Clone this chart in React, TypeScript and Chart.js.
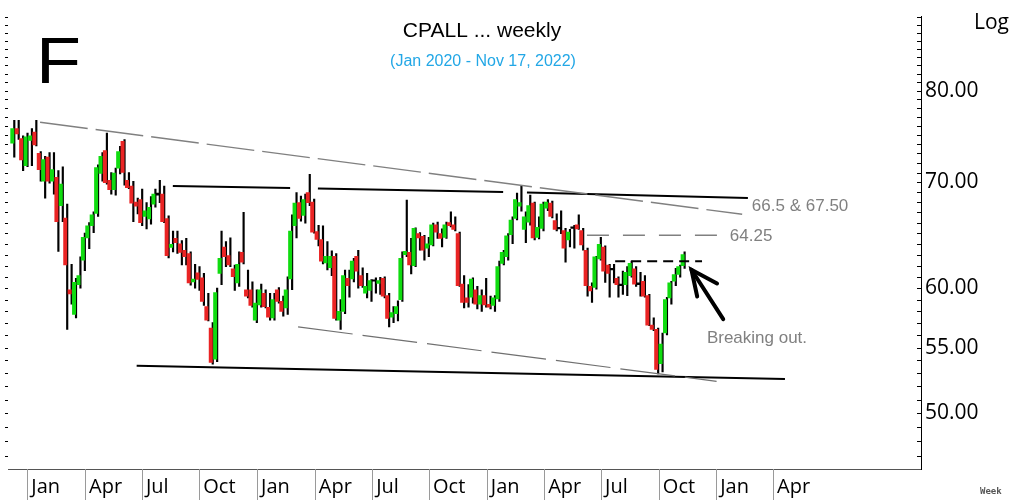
import React, { useEffect, useRef } from 'react';
import { Chart, registerables } from 'chart.js';

Chart.register(...registerables);

// Weekly OHLC (index 0 = mid-Dec 2019, last = Nov 17, 2022)
const opens = [74.1, 75.7, 74.6, 71.7, 74.4, 75.3, 73.0, 70.1, 72.6, 70.1, 70.5, 67.65, 66.45, 59.85, 57.75, 60.3, 62.5, 64.55, 65.7, 66.9, 70.9, 73.3, 70.2, 69.25, 71.45, 74.3, 70.2, 69.6, 68.0, 68.25, 66.6, 66.35, 67.8, 68.9, 68.8, 66.4, 63.65, 64.5, 64.0, 63.4, 63.1, 60.55, 61.35, 60.9, 58.4, 56.6, 54.1, 61.3, 63.7, 62.9, 61.7, 60.45, 63.2, 59.85, 59.85, 57.25, 58.55, 59.55, 58.35, 57.45, 59.85, 58.85, 58.3, 60.8, 65.7, 67.95, 66.7, 68.95, 68.0, 65.15, 64.4, 62.25, 61.8, 62.85, 57.25, 58.0, 60.85, 60.8, 62.85, 61.1, 59.55, 59.8, 60.6, 60.4, 60.85, 59.35, 57.5, 57.8, 59.0, 63.0, 63.2, 62.0, 64.95, 64.7, 63.6, 63.9, 65.8, 64.95, 64.6, 66.0, 65.8, 64.95, 60.35, 59.15, 59.2, 59.85, 58.6, 59.35, 58.6, 58.5, 59.05, 62.2, 62.8, 64.85, 66.4, 67.6, 65.35, 66.05, 67.9, 64.6, 65.45, 67.4, 67.9, 66.2, 65.4, 65.25, 64.35, 65.5, 65.8, 65.25, 63.4, 60.15, 60.05, 62.6, 63.7, 62.05, 61.75, 60.85, 60.35, 60.3, 61.1, 61.7, 60.45, 60.6, 59.35, 56.85, 56.5, 53.75, 56.2, 59.15, 60.6, 61.2, 62.0];
const highs = [76.6, 76.6, 74.9, 75.2, 75.7, 76.6, 73.2, 72.7, 73.1, 73.1, 71.2, 71.6, 67.8, 62.1, 60.85, 62.8, 65.0, 66.0, 67.05, 71.8, 73.1, 75.2, 71.0, 71.45, 73.75, 74.5, 71.0, 70.1, 68.4, 69.3, 67.95, 68.55, 69.3, 70.2, 69.6, 66.65, 65.2, 65.2, 64.3, 64.5, 63.25, 62.1, 61.9, 61.3, 59.55, 57.05, 60.0, 65.2, 64.2, 64.55, 62.05, 63.25, 67.0, 61.6, 60.55, 59.85, 60.35, 59.85, 59.55, 59.55, 60.05, 59.3, 61.0, 66.75, 68.95, 68.6, 68.8, 70.8, 68.3, 65.75, 65.7, 64.2, 63.35, 63.1, 59.0, 61.6, 61.6, 62.65, 63.4, 61.8, 61.3, 60.75, 60.9, 60.95, 61.0, 59.55, 58.4, 58.9, 63.25, 68.2, 64.5, 65.5, 65.05, 64.8, 64.6, 65.95, 66.05, 65.4, 66.05, 67.05, 66.55, 65.1, 61.1, 60.3, 60.9, 60.15, 59.85, 60.85, 59.3, 59.35, 62.4, 63.4, 64.95, 66.55, 68.9, 69.6, 67.05, 68.7, 68.0, 66.55, 68.0, 68.25, 68.1, 66.85, 67.15, 65.45, 65.35, 65.75, 66.75, 65.45, 63.6, 60.45, 62.85, 64.6, 63.8, 62.1, 62.1, 61.0, 61.5, 61.9, 62.4, 61.9, 61.4, 61.1, 59.45, 57.45, 56.6, 56.2, 59.2, 60.6, 61.75, 62.05, 63.25];
const lows = [72.6, 74.5, 71.2, 71.6, 71.7, 73.8, 70.1, 68.4, 69.9, 68.8, 63.3, 66.1, 56.5, 58.6, 57.45, 60.0, 61.55, 63.55, 65.05, 66.6, 70.1, 69.8, 68.8, 68.7, 70.85, 69.7, 69.35, 66.1, 66.85, 65.7, 65.4, 65.85, 67.5, 67.95, 66.0, 62.7, 63.25, 63.1, 62.05, 62.05, 60.25, 60.0, 59.8, 58.5, 57.2, 53.7, 53.9, 60.3, 61.9, 61.9, 59.8, 60.15, 62.15, 59.15, 58.35, 57.05, 58.35, 58.3, 57.25, 57.25, 58.7, 57.6, 57.75, 59.85, 64.55, 66.15, 65.95, 67.65, 65.0, 63.8, 62.15, 61.6, 61.1, 57.25, 56.5, 57.8, 59.2, 60.55, 60.0, 60.05, 59.15, 58.85, 59.55, 59.45, 59.15, 56.7, 57.05, 57.2, 58.85, 62.8, 61.25, 61.9, 63.4, 62.5, 62.8, 63.8, 64.5, 63.7, 64.5, 65.6, 65.2, 60.15, 58.3, 58.35, 58.7, 58.2, 58.0, 58.35, 58.2, 58.0, 58.85, 62.05, 62.5, 64.0, 66.25, 67.1, 64.1, 65.75, 64.35, 64.45, 65.2, 67.15, 66.45, 65.2, 64.95, 62.3, 63.7, 63.6, 65.35, 63.4, 59.3, 58.75, 59.9, 62.5, 60.5, 59.2, 60.45, 59.2, 59.45, 59.35, 60.95, 60.15, 59.3, 59.2, 56.8, 56.4, 52.95, 53.1, 56.05, 58.6, 60.2, 60.95, 61.75];
const closes = [75.7, 75.1, 72.3, 74.8, 74.9, 73.9, 71.3, 72.35, 70.1, 71.3, 66.1, 69.8, 62.05, 59.5, 60.5, 61.1, 64.6, 65.7, 66.75, 71.5, 72.7, 69.95, 69.25, 70.95, 73.2, 71.0, 69.45, 67.9, 67.6, 66.0, 67.15, 67.5, 68.8, 68.7, 66.1, 62.9, 63.95, 64.1, 63.2, 62.8, 60.45, 60.8, 60.75, 58.85, 57.25, 53.85, 59.6, 62.65, 62.8, 62.05, 61.0, 62.1, 62.3, 59.3, 58.5, 58.7, 59.85, 58.4, 57.5, 59.0, 58.85, 58.0, 59.85, 65.2, 67.9, 66.4, 68.25, 67.95, 65.1, 64.4, 62.4, 62.85, 62.85, 57.4, 58.0, 61.1, 60.2, 62.4, 61.5, 60.2, 60.15, 60.65, 60.65, 60.65, 59.3, 57.4, 57.9, 58.4, 62.65, 63.3, 62.05, 65.45, 64.55, 63.4, 64.0, 65.8, 65.1, 64.5, 65.8, 65.7, 65.35, 60.2, 58.75, 58.75, 60.8, 58.6, 59.35, 58.55, 58.35, 59.15, 61.9, 63.2, 64.75, 66.25, 68.25, 67.95, 66.55, 67.65, 64.55, 65.55, 67.8, 68.0, 66.6, 65.35, 65.45, 63.6, 65.1, 65.45, 65.4, 63.9, 60.2, 59.75, 62.8, 63.95, 61.5, 61.3, 61.6, 60.3, 60.2, 61.4, 62.2, 60.35, 60.3, 59.3, 56.85, 56.5, 53.3, 55.3, 59.0, 60.45, 61.2, 61.9, 63.0];

// x-axis quarter ticks (in week positions) and their labels
const quarterTicks = [3.4, 16.5, 29.4, 42.4, 55.5, 68.6, 81.6, 94.5, 107.6, 120.6, 133.5, 146.6, 159.6, 172.5];
const quarterLabels = ['Jan', 'Apr', 'Jul', 'Oct', 'Jan', 'Apr', 'Jul', 'Oct', 'Jan', 'Apr', 'Jul', 'Oct', 'Jan', 'Apr'];

// right log axis labels
const yTickValues = [50, 55, 60, 70, 80];

// trend lines: [week, price] endpoints
const upperChannel = [[6.3, 76.39], [165.5, 66.81]];
const lowerChannel = [[64.8, 56.7], [159.7, 52.38]];
const topLineA = [[36.4, 69.61], [63.0, 69.41]];
const topLineB = [[69.3, 69.36], [111.3, 69.01]];
const topLineC = [[116.7, 68.96], [166.8, 68.42]];
const bottomLine = [[28.2, 53.58], [175.2, 52.56]];
const level6425 = [[130.3, 64.79], [160.5, 64.79]];
const breakoutLevel = [[136.7, 62.4], [156.4, 62.4]];
const arrowShaft = [[161.2, 57.34], [154.0, 61.62]];
const arrowHead = [[159.8, 60.4], [154.0, 61.62], [155.3, 59.27]];

const annotations = [
  { text: '66.5 & 67.50', x: 167.7, y: 67.58 },
  { text: '64.25', x: 162.7, y: 64.72 },
  { text: 'Breaking out.', x: 157.5, y: 55.79 },
];

const GREEN = '#10dc10';
const RED = '#ea2424';

const toPts = (arr: number[][]) => arr.map(([x, y]) => ({ x, y }));

const lineDs = (pts: number[][], color: string, width: number, dash: number[] = []) => ({
  type: 'line' as const,
  data: toPts(pts),
  borderColor: color,
  borderWidth: width,
  borderDash: dash,
  pointRadius: 0,
  fill: false,
  tension: 0,
  order: 0,
  borderCapStyle: 'butt' as const,
});

const decorPlugin = {
  id: 'decor',
  afterDraw(chart: any) {
    const { ctx, chartArea: a, scales } = chart;
    const xs = scales.x;
    const ys = scales.y;
    ctx.save();
    // minor ticks on both sides
    ctx.strokeStyle = '#000';
    ctx.lineWidth = 1;
    ctx.beginPath();
    for (let v = 47; v <= 89; v++) {
      const py = Math.round(ys.getPixelForValue(v)) + 0.5;
      ctx.moveTo(a.right - 4, py);
      ctx.lineTo(a.right, py);
      ctx.moveTo(a.left - 3, py);
      ctx.lineTo(a.left, py);
    }
    ctx.stroke();
    // quarter separators below the axis
    ctx.strokeStyle = '#9a9a9a';
    ctx.beginPath();
    for (const t of quarterTicks) {
      const px = Math.round(xs.getPixelForValue(t)) + 0.5;
      ctx.moveTo(px, a.bottom);
      ctx.lineTo(px, chart.height);
    }
    ctx.stroke();

    // annotations
    ctx.fillStyle = '#808080';
    ctx.font = '17px "Liberation Sans", Arial, sans-serif';
    ctx.textAlign = 'left';
    ctx.textBaseline = 'middle';
    for (const an of annotations) {
      ctx.fillText(an.text, xs.getPixelForValue(an.x), ys.getPixelForValue(an.y));
    }

    // titles
    ctx.fillStyle = '#000';
    ctx.textAlign = 'center';
    ctx.font = '21px "Liberation Sans", Arial, sans-serif';
    ctx.fillText('CPALL ... weekly', 482, 31);
    ctx.fillStyle = '#22a7e6';
    ctx.font = '16px "Liberation Sans", Arial, sans-serif';
    ctx.fillText('(Jan 2020 - Nov 17, 2022)', 483, 62);

    ctx.fillStyle = '#000';
    ctx.textAlign = 'left';
    ctx.textBaseline = 'alphabetic';
    ctx.save();
    ctx.translate(36, 83);
    ctx.scale(1.15, 1);
    ctx.font = '64px "Liberation Sans", Arial, sans-serif';
    ctx.fillText('F', 0, 0);
    ctx.restore();
    ctx.font = '21px "Open Sans", sans-serif';
    ctx.fillText('Log', 974, 29);
    ctx.fillStyle = '#555';
    ctx.font = 'bold 9px "DejaVu Sans Mono", monospace';
    ctx.fillText('Week', 980, 494);
    ctx.restore();
  },
};

export default function App() {
  const canvasRef = useRef<HTMLCanvasElement | null>(null);

  useEffect(() => {
    document.body.style.margin = '0';
    const canvas = canvasRef.current;
    if (!canvas) return;
    const idx = opens.map((_, i) => i);
    const bodyColors = idx.map((i) => {
      const d = Math.abs(closes[i] - opens[i]) / opens[i];
      if (d < 0.0032) return '#000';
      return closes[i] >= opens[i] ? GREEN : RED;
    });

    const chart = new Chart(canvas, {
      type: 'bar',
      data: {
        datasets: [
          lineDs(upperChannel, '#808080', 1.4, [48, 8]) as any,
          lineDs(lowerChannel, '#707070', 1.2, [55, 10]) as any,
          lineDs(topLineA, '#000', 2) as any,
          lineDs(topLineB, '#000', 2) as any,
          lineDs(topLineC, '#000', 2) as any,
          lineDs(bottomLine, '#000', 2) as any,
          lineDs(level6425, '#808080', 1.5, [22, 14]) as any,
          lineDs(breakoutLevel, '#000', 2, [10, 6]) as any,
          { ...lineDs(arrowShaft, '#000', 4), borderCapStyle: 'round' } as any,
          { ...lineDs(arrowHead, '#000', 4), borderCapStyle: 'round', borderJoinStyle: 'miter' } as any,
          {
            type: 'bar',
            data: idx.map((i) => ({ x: i, y: [opens[i], closes[i]] })),
            backgroundColor: bodyColors,
            barThickness: 3.3,
            minBarLength: 1.5,
            grouped: false,
            order: 1,
          } as any,
          {
            type: 'bar',
            data: idx.map((i) => ({ x: i + 0.45, y: [lows[i], highs[i]] })),
            backgroundColor: '#000',
            barThickness: 1.5,
            grouped: false,
            order: 2,
          } as any,
        ],
      },
      options: {
        responsive: false,
        animation: false,
        devicePixelRatio: 1,
        layout: { padding: { top: 12, left: 8, right: 0, bottom: 0 } },
        plugins: { legend: { display: false }, tooltip: { enabled: false } },
        scales: {
          x: {
            type: 'linear',
            min: -0.975,
            max: 206.05,
            offset: false,
            grid: { display: false, drawTicks: false },
            border: { display: true, color: '#555', width: 1 },
            afterBuildTicks: (s: any) => {
              s.ticks = quarterTicks.map((v) => ({ value: v }));
            },
            afterFit: (s: any) => {
              s.height = 31;
            },
            ticks: {
              autoSkip: false,
              maxRotation: 0,
              align: 'start',
              labelOffset: 4,
              padding: 6,
              color: '#000',
              font: { family: '"Open Sans", sans-serif', size: 20 },
              callback: (_v: any, i: number) => quarterLabels[i],
            },
          },
          y: {
            type: 'logarithmic',
            position: 'right',
            min: 46.1,
            max: 89.1,
            grid: { display: false, drawTicks: false },
            border: { display: true, color: '#000', width: 1 },
            afterBuildTicks: (s: any) => {
              s.ticks = yTickValues.map((v) => ({ value: v }));
            },
            afterFit: (s: any) => {
              s.width = 89;
            },
            ticks: {
              padding: 4,
              color: '#000',
              font: { family: '"Open Sans", sans-serif', size: 21 },
              callback: (v: any) => Number(v).toFixed(2),
            },
          },
        },
      },
      plugins: [decorPlugin],
    } as any);

    return () => chart.destroy();
  }, []);

  return (
    <div style={{ position: 'absolute', left: 0, top: 0, width: 1010, height: 500, background: '#fff' }}>
      <canvas ref={canvasRef} width={1010} height={500} style={{ display: 'block', width: 1010, height: 500 }} />
    </div>
  );
}
